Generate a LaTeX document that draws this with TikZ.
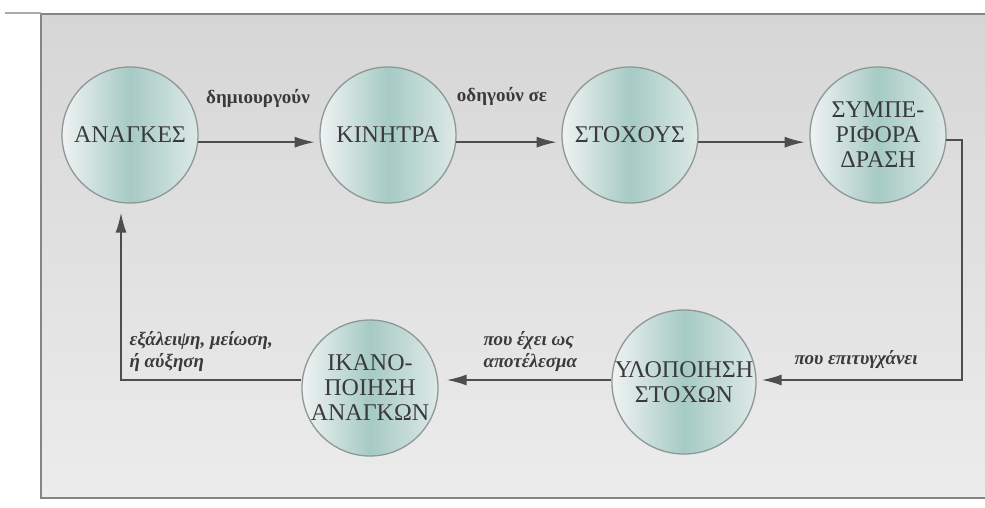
\documentclass[tikz,border=0pt]{standalone}
\usepackage{fontspec}
\setmainfont{Liberation Serif}
\usetikzlibrary{arrows.meta,calc}
\definecolor{bgT}{HTML}{D6D6D6}
\definecolor{bgB}{HTML}{ECECEC}
\definecolor{frameC}{HTML}{858585}
\definecolor{ballL}{HTML}{EFF3F2}
\definecolor{ballM}{HTML}{A6CAC4}
\definecolor{ballR}{HTML}{DDE9E6}
\definecolor{ballLine}{HTML}{8E9896}
\definecolor{txt}{HTML}{3A3A3A}
\definecolor{lineC}{HTML}{4E4E4E}
\begin{document}
\begin{tikzpicture}[x=1pt,y=-1pt,
  ball/.style={circle,draw=ballLine,line width=1.3pt,minimum size=136pt,inner sep=0pt,
    left color=ballL,right color=ballR,middle color=ballM,
    font=\fontsize{24}{25}\selectfont,text=txt,align=center},
  conn/.style={draw=lineC,line width=1.8pt,-{Latex[length=20pt,width=11pt]}},
  lab/.style={text=txt,font=\bfseries\fontsize{19}{21}\selectfont},
  ilab/.style={text=txt,font=\bfseries\itshape\fontsize{19}{22}\selectfont,align=left},
  frameline/.style={draw=frameC,line width=2pt}]
\useasboundingbox (0,0) rectangle (985,508);
\fill[white] (0,0) rectangle (985,508);
\shade[top color=bgT,bottom color=bgB] (41,14) rectangle (990,498);
\draw[frameline] (990,14) -- (41,14) -- (41,498) -- (990,498);
\draw[frameC!70,line width=1.5pt] (5,13) -- (41,13);

\node[ball] (A) at (130,135) {ΑΝΑΓΚΕΣ};
\node[ball] (K) at (388,135) {ΚΙΝΗΤΡΑ};
\node[ball] (S) at (630,135) {ΣΤΟΧΟΥΣ};
\node[ball] (B) at (878,135) {ΣΥΜΠΕ-\\ΡΙΦΟΡΑ\\ΔΡΑΣΗ};
\node[ball,minimum size=144pt] (Y) at (684,382) {ΥΛΟΠΟΙΗΣΗ\\ΣΤΟΧΩΝ};
\node[ball] (I) at (370,388) {ΙΚΑΝΟ-\\ΠΟΙΗΣΗ\\ΑΝΑΓΚΩΝ};

\coordinate (r1) at (962,380);
\coordinate (m1) at (560,380);
\coordinate (l1) at (121,380);

\draw[conn,shorten >=5pt] (A.-6) -- (K.186);
\draw[conn,shorten >=5pt] (K.-6) -- (S.186);
\draw[conn,shorten >=5pt] (S.-6) -- (B.186);
\draw[conn,shorten >=5pt] (B.-4) -| (r1) -- (r1 -| Y.east);
\draw[conn,shorten >=8pt] (m1 -| Y.west) -- (m1 -| I.east);
\draw[conn,shorten >=9pt] (l1 -| I.west) -- (l1) -- (l1 |- A.south);

\node[lab] (t1) at (258,98) {δημιουργούν};
\node[lab] (t2) at (502,96) {οδηγούν σε};
\node[ilab] (t3) at (856,360) {που επιτυγχάνει};
\node[ilab,anchor=west] (t4) at (480,352) {που έχει ως\\αποτέλεσμα};
\node[ilab,anchor=west] (t5) at (126,352) {εξάλειψη, μείωση,\\ή αύξηση};
\end{tikzpicture}
\end{document}
